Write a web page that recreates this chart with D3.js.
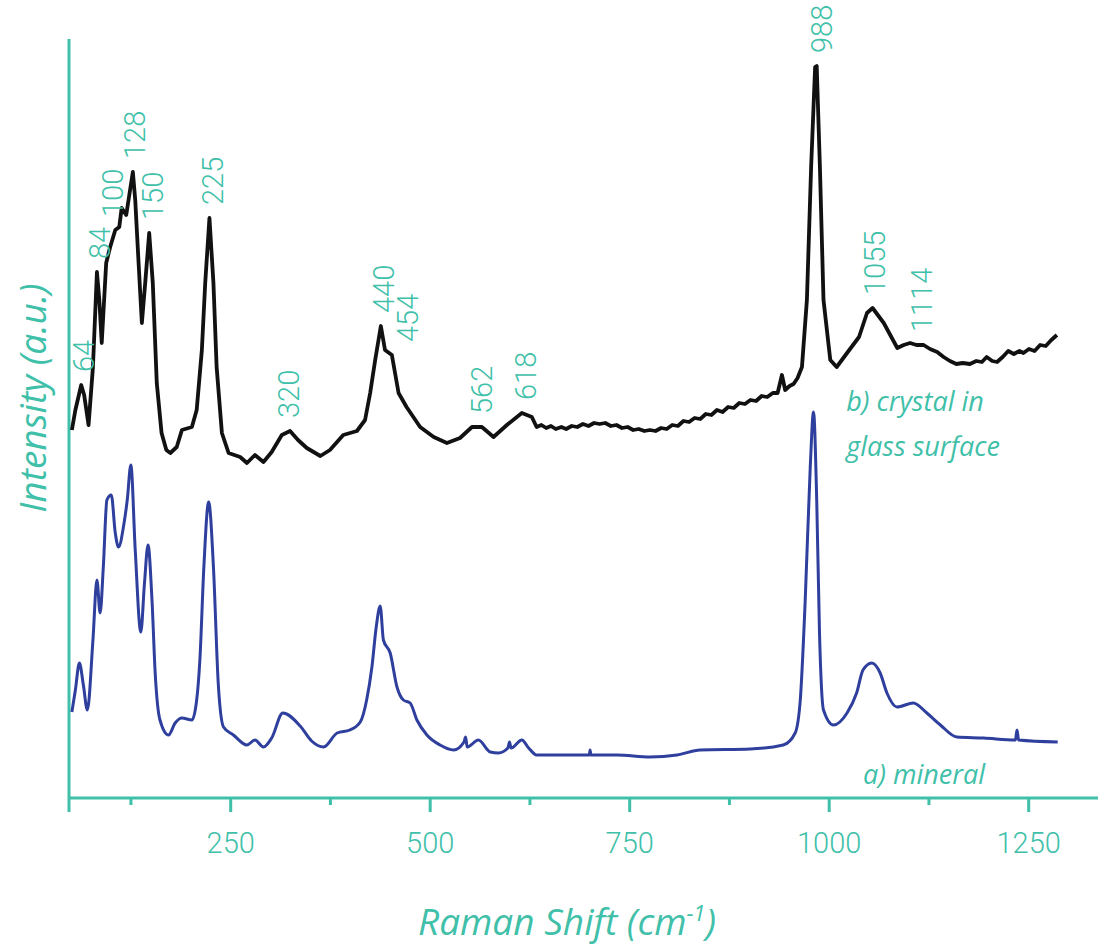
<!DOCTYPE html>
<html><head><meta charset="utf-8">
<script src="https://cdn.jsdelivr.net/npm/d3@7"></script>
<style>
html,body{margin:0;padding:0;background:#fff;}
svg{display:block;}
</style></head><body>
<svg id="chart" width="1098" height="947"></svg>
<script>
// b) crystal in glass surface (black trace)
const crystalShift = [51.6,56,63.3,67,72.5,78,83,86,89,94.6,99.6,106,111,114,119.7,122.6,128,131,135,139.3,143.5,148.5,153,158,164,170,175,183,189.5,202,208,214.5,218.7,224,229,233,239.6,248,262.5,271,281,291.7,302,314.7,325,335,346,363,375,391.7,408.8,419,425.4,431.7,438.8,444,452.6,461,471,488,505,521.6,538,553,565.4,580,596.7,615.5,628,634,640,646,652,658,665,671,678,685,692,699,706,713,720,727,734,741,748,755,762,769,776,783,790,797,804,811,818,825,832,839,846,853,860,867,874,881,888,895,902,909,916,923,930,936,941.4,945.5,951,956,961,966.5,972.7,978,983,985,989,993.5,1002,1010,1023,1038,1048,1055,1069,1086,1094,1102,1110,1119,1127,1136,1144,1152,1160,1168,1177,1185,1192,1198,1205,1211,1218,1225,1232,1239,1244,1251,1258,1265,1272,1279,1286];
const crystalIntensity = [368,388,413,403,373,431,526,498,455,535,551,568,571,590,583,598,626,598,538,475,515,565,515,415,365,348,345,351,368,371,388,448,515,580,515,431,365,345,341,335,343,336,346,363,367,358,350,342,348,363,367,378,405,438,472,448,443,405,391,371,361,355,360,371,371,361,373,385,381,371,373,370,372,369,371,369,372,371,374,372,375,374,375,372,373,370,371,368,369,367,368,367,370,369,373,372,377,376,380,379,384,383,388,386,391,390,395,394,398,397,402,401,405,405,423,408,412,414,420,431,498,631,731,732,631,498,438,431,445,461,485,490,475,450,453,455,453,453,449,446,441,437,434,435,434,437,436,441,437,436,441,447,444,447,445,449,447,453,452,458,463];
// a) mineral (blue trace)
const mineralShift = [51.6,56,61,66,71,78,83,87,91,95.5,101,106,110,117,121,125.5,131,138,142.6,147,152,156,162,172.7,181,189.5,202,208,212,217,223,229,235,241.6,254,271,281,291.7,302,316,337.7,352,367,384,400,413,421,427.6,433,438,442,450.5,459,467,475.5,484,496.5,513,530,543,545,547,561,576,586,598,600,602,615.5,624,634,672,700,701,702,734.5,776,810,839,901.6,943,958,964.4,970.6,976.9,981,985,988.5,993.5,1006,1023,1035,1043,1054,1064.5,1073,1085.5,1106,1123,1140,1160.6,1194,1234,1236,1238,1287];
const mineralIntensity = [86,108,135,113,88,158,218,185,231,298,303,265,251,275,298,333,248,166,215,253,198,125,78,63,75,80,78,98,138,231,296,231,115,71,63,53,58,51,60,85,72,57,51,65,68,76,98,131,171,192,158,145,111,98,95,78,63,53,48,56,61,51,58,46,45,50,56,50,58,50,43,43,43,48,43,43,41,43,48,49,53,65,98,198,331,386,298,165,88,73,85,105,128,135,125,105,91,95,85,73,61,60,58,68,58,56];
// annotated peaks (cm-1)
const peakLabels = [64,84,100,128,150,225,320,440,454,562,618,988,1055,1114];
const majorTicks = [250,500,750,1000,1250];
const minorTicks = [125,375,625,875,1125];
const xTitle = "Raman Shift (cm";
const xTitleSup = "-1";
const yTitle = "Intensity (a.u.)";
const crystalName = ["b) crystal in", "glass surface"];
const mineralName = "a) mineral";

const TEAL = "#40bfa9";
const BLUE = "#2f3f9d";
const BLACK = "#111111";

const svg = d3.select("#chart");
const x = d3.scaleLinear().domain([48, 1290]).range([69, 1060.1]);
const y = d3.scaleLinear().domain([0, 758]).range([798, 40]);

const crystal = crystalShift.map((s, i) => ({s, v: crystalIntensity[i]}));
const mineral = mineralShift.map((s, i) => ({s, v: mineralIntensity[i]}));

// axes
const axisG = svg.append("g");
axisG.append("line").attr("x1", 69).attr("x2", 1098).attr("y1", y(0)).attr("y2", y(0))
  .attr("stroke", TEAL).attr("stroke-width", 3);
axisG.append("line").attr("x1", 69).attr("x2", 69).attr("y1", 39).attr("y2", y(0) + 14)
  .attr("stroke", TEAL).attr("stroke-width", 3);

const xAxis = d3.axisBottom(x).tickValues(majorTicks).tickSize(14).tickSizeOuter(0)
  .tickPadding(20).tickFormat(d3.format("d"));
const gx = svg.append("g").attr("transform", `translate(0,${y(0)})`).call(xAxis);
gx.select(".domain").remove();
gx.selectAll(".tick line").attr("stroke", TEAL).attr("stroke-width", 3);
gx.selectAll(".tick text").attr("fill", TEAL)
  .style("font-family", "Roboto, 'Noto Sans', sans-serif").style("font-weight", 300)
  .style("font-size", "29px");
const xMinor = d3.axisBottom(x).tickValues(minorTicks).tickSize(7).tickSizeOuter(0).tickFormat("");
const gm = svg.append("g").attr("transform", `translate(0,${y(0)})`).call(xMinor);
gm.select(".domain").remove();
gm.selectAll(".tick line").attr("stroke", TEAL).attr("stroke-width", 3);

// titles
const xt = svg.append("text").attr("x", 567).attr("y", 935).attr("text-anchor", "middle")
  .attr("fill", TEAL).style("font-family", "'Open Sans', 'Noto Sans', sans-serif")
  .style("font-style", "italic").style("font-size", "37px").text(xTitle);
xt.append("tspan").attr("dy", -14).style("font-size", "22px").text(xTitleSup);
xt.append("tspan").attr("dy", 14).text(")");

svg.append("text").attr("transform", "translate(46,398) rotate(-90)").attr("text-anchor", "middle")
  .attr("fill", TEAL).style("font-family", "'Open Sans', 'Noto Sans', sans-serif")
  .style("font-style", "italic").style("font-size", "37px").text(yTitle);

// traces
const line = d3.line().x(d => x(d.s)).y(d => y(d.v));
svg.append("path").datum(mineral).attr("d", line.curve(d3.curveMonotoneX))
  .attr("fill", "none").attr("stroke", BLUE).attr("stroke-width", 3).attr("stroke-linejoin", "round");
svg.append("path").datum(crystal).attr("d", d3.line().x(d => x(d.s)).y(d => y(d.v)).curve(d3.curveLinear))
  .attr("fill", "none").attr("stroke", BLACK).attr("stroke-width", 3.8).attr("stroke-linejoin", "round");

// peak labels, placed above the black trace
const fs = 29;
const placed = [];
peakLabels.forEach(p => {
  const near = crystal.filter(d => Math.abs(d.s - p) <= 6);
  const vmax = d3.max(near, d => d.v);
  const bottom = y(vmax) - 13;
  const len = String(p).length * 0.56 * fs;
  let cx = x(p) + 2;
  let moved = true;
  while (moved) {
    moved = false;
    for (const q of placed) {
      const yOver = !(bottom - len > q.bottom || q.bottom - q.len > bottom);
      if (yOver && Math.abs(cx - q.cx) < 24) { cx = q.cx + 24; moved = true; }
    }
  }
  placed.push({p, cx, bottom, len});
});
svg.append("g").selectAll("text").data(placed).join("text")
  .attr("transform", d => `translate(${d.cx},${d.bottom}) rotate(-90)`)
  .attr("dy", "0.36em").attr("fill", TEAL)
  .style("font-family", "Roboto, 'Noto Sans', sans-serif").style("font-weight", 300)
  .style("font-size", fs + "px").text(d => d.p);

// series names
const nameStyle = sel => sel.attr("fill", TEAL)
  .style("font-family", "'Open Sans', 'Noto Sans', sans-serif")
  .style("font-style", "italic").style("font-size", "27px");
svg.append("text").attr("x", x(1022)).attr("y", y(387)).call(nameStyle).text(crystalName[0]);
svg.append("text").attr("x", x(1022)).attr("y", y(342)).call(nameStyle).text(crystalName[1]);
svg.append("text").attr("x", x(1043)).attr("y", y(14)).call(nameStyle).text(mineralName);
</script>
</body></html>
